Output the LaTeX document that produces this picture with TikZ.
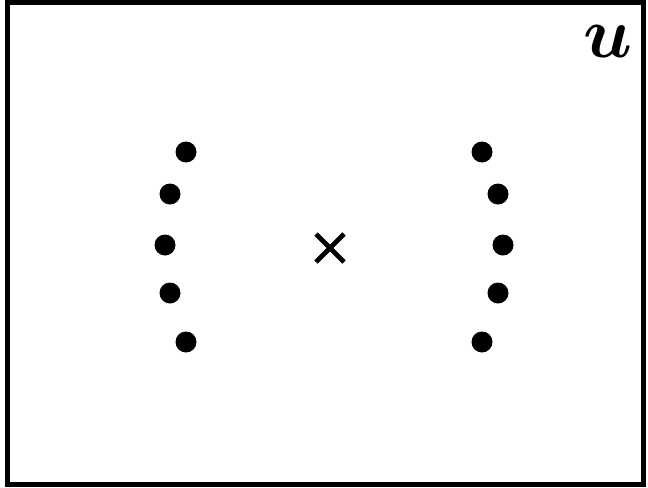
\documentclass[tikz,border=0pt]{standalone}
\usepackage{amsmath,amssymb,bm}
\usepackage{tikz}

\begin{document}
\begin{tikzpicture}[x=0.02cm,y=-0.02cm,
  pt/.style={circle,fill=black,inner sep=0pt,minimum size=0.42cm}]
  \useasboundingbox (0,0) rectangle (648,487);
  \draw[line width=2.8pt] (7.5,2.5) rectangle (643.5,484.5);
  \node (lab) at (608,41) {\scalebox{4.1}{$\bm{u}$}};
  % left and right arcs of points
  \foreach \i/\x/\y in {1/186/152,2/170/194,3/165/245,4/170/293,5/186/342}{
    \node[pt] (l\i) at (\x,\y) {};
    \node[pt] (r\i) at (668-\x,\y) {};
  }
  % centre mark
  \coordinate (c) at (330,248);
  \draw[line width=2.7pt] ([shift={(-14,-14)}]c) -- ([shift={(14,14)}]c);
  \draw[line width=2.7pt] ([shift={(-14,14)}]c) -- ([shift={(14,-14)}]c);
\end{tikzpicture}
\end{document}
